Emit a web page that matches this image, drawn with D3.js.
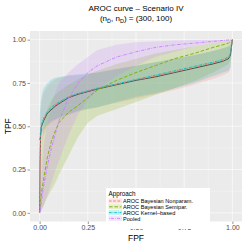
<!DOCTYPE html>
<html><head><meta charset="utf-8">
<script src="https://cdn.jsdelivr.net/npm/d3@7"></script>
<style>body{margin:0;background:#fff}svg{display:block}text{font-family:"Liberation Sans",Arial,sans-serif}</style>
</head><body><div id="chart"></div>
<script>
const title = "AROC curve \u2013 Scenario IV";
const approaches = ["AROC Bayesian Nonparam.", "AROC Bayesian Semipar.", "AROC Kernel\u2013based", "Pooled"];
const colors = ["#F8766D", "#7CAE00", "#00BFC4", "#C77CFF"];
const dashes = ["2.6 1.6", "3.6 1.8", "2.6 1 0.7 1", "0.7 1.2 3 1.2"];
const ticks = [0, 0.25, 0.5, 0.75, 1];
const tickLabels = ["0.00", "0.25", "0.50", "0.75", "1.00"];
const fpf = [0, .002, .005, .01, .02, .04, .06, .08, .1, .15, .2, .25, .3, .4, .5, .6, .7, .8, .9, .95, .98, .99, 1];
const trueTPF = [0, .30, .45, .50, .53, .575, .595, .615, .63, .665, .685, .70, .715, .74, .765, .785, .81, .835, .86, .875, .89, .91, 1];
const nonparTPF = [0, .32, .46, .51, .54, .58, .60, .62, .635, .668, .688, .703, .718, .743, .768, .79, .815, .84, .865, .88, .895, .915, 1];
const nonparLow = [0, .20, .30, .38, .45, .50, .52, .535, .545, .565, .585, .60, .61, .635, .66, .685, .71, .74, .775, .795, .81, .83, 1];
const nonparUp = [0, .50, .58, .64, .69, .73, .755, .77, .78, .79, .795, .80, .81, .83, .85, .87, .89, .91, .935, .95, .96, .97, 1];
const semiTPF = [0, .03, .07, .12, .19, .32, .41, .47, .52, .58, .62, .665, .71, .765, .81, .85, .89, .92, .955, .97, .98, .99, 1];
const semiLow = [0, .005, .01, .02, .04, .09, .13, .17, .22, .33, .44, .52, .56, .60, .64, .68, .72, .76, .81, .84, .86, .88, 1];
const semiUp = [0, .15, .25, .38, .50, .60, .65, .68, .70, .74, .77, .80, .82, .86, .89, .92, .94, .96, .98, .99, .995, .998, 1];
const kernTPF = [.42, .44, .47, .51, .545, .585, .61, .625, .64, .67, .69, .705, .72, .745, .77, .795, .82, .845, .87, .885, .90, .92, 1];
const kernLow = [.33, .36, .40, .45, .48, .51, .53, .54, .55, .57, .59, .60, .61, .64, .67, .69, .72, .75, .79, .81, .82, .84, 1];
const kernUp = [.56, .60, .64, .68, .72, .75, .77, .78, .785, .795, .80, .805, .81, .83, .85, .87, .89, .91, .935, .95, .96, .97, 1];
const poolTPF = [0, .01, .03, .07, .15, .27, .37, .45, .53, .66, .75, .81, .85, .90, .93, .955, .97, .98, .99, .995, .998, .999, 1];
const poolLow = [0, 0, .005, .015, .04, .10, .17, .24, .30, .45, .57, .65, .71, .79, .85, .90, .93, .96, .98, .99, .995, .998, 1];
const poolUp = [0, .05, .12, .22, .38, .52, .62, .69, .75, .81, .86, .90, .94, .97, .985, .99, .995, .998, 1, 1, 1, 1, 1];

const series = [
  {mid: nonparTPF, lo: nonparLow, hi: nonparUp},
  {mid: semiTPF, lo: semiLow, hi: semiUp},
  {mid: kernTPF, lo: kernLow, hi: kernUp},
  {mid: poolTPF, lo: poolLow, hi: poolUp}
];

const W = 245, H = 245;
const P = {left: 30, right: 242, top: 31, bottom: 221.5};
const svg = d3.select("#chart").append("svg").attr("width", W).attr("height", H);
const x = d3.scaleLinear().domain([-0.05, 1.05]).range([P.left, P.right]);
const y = d3.scaleLinear().domain([-0.05, 1.05]).range([P.bottom, P.top]);

svg.append("rect").attr("x", P.left).attr("y", P.top).attr("width", P.right - P.left).attr("height", P.bottom - P.top).attr("fill", "#EBEBEB");
const minor = [0.125, 0.375, 0.625, 0.875];
const g = svg.append("g");
minor.forEach(v => {
  g.append("line").attr("x1", x(v)).attr("x2", x(v)).attr("y1", P.top).attr("y2", P.bottom).attr("stroke", "#fff").attr("stroke-width", 0.3);
  g.append("line").attr("y1", y(v)).attr("y2", y(v)).attr("x1", P.left).attr("x2", P.right).attr("stroke", "#fff").attr("stroke-width", 0.3);
});
ticks.forEach(v => {
  g.append("line").attr("x1", x(v)).attr("x2", x(v)).attr("y1", P.top).attr("y2", P.bottom).attr("stroke", "#fff").attr("stroke-width", 0.6);
  g.append("line").attr("y1", y(v)).attr("y2", y(v)).attr("x1", P.left).attr("x2", P.right).attr("stroke", "#fff").attr("stroke-width", 0.6);
});

const area = d3.area().x(d => x(d.f)).y0(d => y(d.lo)).y1(d => y(d.hi));
const line = d3.line().x(d => x(d.f)).y(d => y(d.v));
series.forEach((s, i) => {
  const pts = fpf.map((f, k) => ({f, lo: s.lo[k], hi: s.hi[k]}));
  svg.append("path").datum(pts).attr("d", area).attr("fill", colors[i]).attr("fill-opacity", 0.2);
});
svg.append("path").datum(fpf.map((f, k) => ({f, v: trueTPF[k]}))).attr("d", line)
  .attr("fill", "none").attr("stroke", "#000").attr("stroke-width", 0.6);
series.forEach((s, i) => {
  svg.append("path").datum(fpf.map((f, k) => ({f, v: s.mid[k]}))).attr("d", line)
    .attr("fill", "none").attr("stroke", colors[i]).attr("stroke-width", 0.9).attr("stroke-dasharray", dashes[i]);
});

// axes
const xa = svg.append("g").attr("transform", `translate(0,${P.bottom})`)
  .call(d3.axisBottom(x).tickValues(ticks).tickFormat((d, i) => tickLabels[i]).tickSize(2.5).tickPadding(1.5));
const ya = svg.append("g").attr("transform", `translate(${P.left},0)`)
  .call(d3.axisLeft(y).tickValues(ticks).tickFormat((d, i) => tickLabels[i]).tickSize(2.5).tickPadding(1.5));
[xa, ya].forEach(a => {
  a.select(".domain").remove();
  a.selectAll(".tick line").attr("stroke", "#333").attr("stroke-width", 0.5);
  a.selectAll(".tick text").attr("fill", "#4D4D4D").attr("font-size", 7).attr("font-family", "Liberation Sans, Arial, sans-serif");
});

svg.append("text").attr("x", x(0.5)).attr("y", 241).attr("text-anchor", "middle").attr("font-size", 8.5).attr("fill", "#000").text("FPF");
svg.append("text").attr("transform", `translate(11,${y(0.5)}) rotate(-90)`).attr("text-anchor", "middle").attr("font-size", 8.5).attr("fill", "#000").text("TPF");
svg.append("text").attr("x", x(0.5)).attr("y", 10.5).attr("text-anchor", "middle").attr("font-size", 8).attr("fill", "#000").text(title);
const sub = svg.append("text").attr("x", x(0.5)).attr("y", 21).attr("text-anchor", "middle").attr("font-size", 8).attr("fill", "#000");
sub.append("tspan").text("(n");
sub.append("tspan").attr("font-size", 5.5).attr("dy", 1.8).text("D\u0304");
sub.append("tspan").attr("dy", -1.8).text(", n");
sub.append("tspan").attr("font-size", 5.5).attr("dy", 1.8).text("D");
sub.append("tspan").attr("dy", -1.8).text(") = (300, 100)");

// legend
const L = {x: 106, y: 188, w: 104, h: 41};
const lg = svg.append("g");
lg.append("rect").attr("x", L.x).attr("y", L.y).attr("width", L.w).attr("height", L.h).attr("fill", "#fff");
lg.append("text").attr("x", L.x + 2.5).attr("y", L.y + 8).attr("font-size", 6.3).attr("fill", "#000").text("Approach");
approaches.forEach((a, i) => {
  const cy = L.y + 13 + i * 5.8;
  lg.append("rect").attr("x", L.x + 2.5).attr("y", cy - 2.6).attr("width", 13.5).attr("height", 5.2).attr("fill", colors[i]).attr("fill-opacity", 0.2);
  lg.append("line").attr("x1", L.x + 3).attr("x2", L.x + 15.5).attr("y1", cy).attr("y2", cy)
    .attr("stroke", colors[i]).attr("stroke-width", 0.9).attr("stroke-dasharray", dashes[i]);
  lg.append("text").attr("x", L.x + 17).attr("y", cy + 2.1).attr("font-size", 5.6).attr("fill", "#000").text(a);
});
</script></body></html>
